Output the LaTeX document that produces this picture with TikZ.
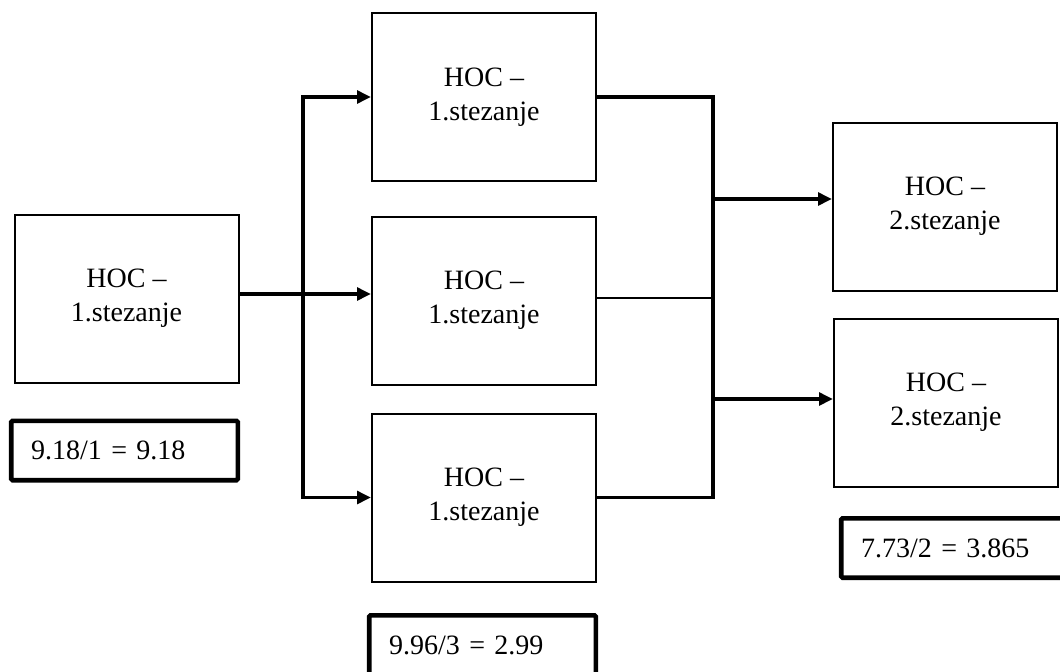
\documentclass[tikz,border=0pt]{standalone}
\usepackage{fontspec}
\setmainfont{Liberation Serif}
\usetikzlibrary{arrows.meta}

\tikzset{every picture/.style={line width=0.75pt}}
\tikzset{
  hocbox/.style={draw, line width=1.5pt, minimum width=168pt, minimum height=126pt, align=center, inner sep=0pt, font=\fontsize{21}{25.5}\selectfont},
  valbox/.style={draw, line width=3.5pt, rounded corners=1pt, minimum height=44.5pt, text width=140pt, inner xsep=15pt, align=left, font=\fontsize{21}{24}\selectfont},
  conn/.style={line width=2.8pt},
  thinconn/.style={line width=2pt},
  tip/.style={-{Triangle[length=10.5pt,width=9.5pt]}}
}

\begin{document}
\begin{tikzpicture}[x=0.75pt,y=0.75pt,yscale=-1,xscale=1]
\clip (0,0) rectangle (1060,671);
\fill[white] (0,0) rectangle (1060,671);

%Shape: Rectangle [first stage]
\node[hocbox] (hocA) at (126.5,298.5) {HOC –\\1.stezanje};
\node[hocbox] (hocB) at (484,97) {HOC –\\1.stezanje};
\node[hocbox] (hocC) at (484,300.5) {HOC –\\1.stezanje};
\node[hocbox] (hocD) at (484,497.5) {HOC –\\1.stezanje};
%Shape: Rectangle [second stage]
\node[hocbox] (hocE) at (945,206.5) {HOC –\\2.stezanje};
\node[hocbox] (hocF) at (946,402.5) {HOC –\\2.stezanje};

% Text Node [values]
\node[valbox] (valA) at (124.5,450.5) {9.18/1 = 9.18};
\node[valbox] (valB) at (482.5,645) {9.96/3 = 2.99};
\node[valbox] (valC) at (954.5,548) {7.73/2 = 3.865};

%Straight Lines [split]
\coordinate (split) at (303,294);
\draw[conn] (split -| hocA.east) -- (split);
\draw[conn,tip] (split) |- (hocB.west);
\draw[conn,tip] (split) -- (split -| hocC.west);
\draw[conn,tip] (split) |- (hocD.west);

%Straight Lines [join]
\coordinate (join) at (713,298);
\coordinate (outE) at (713,199);
\coordinate (outF) at (713,399);
\draw[conn] (hocB.east) -| (join) |- (hocD.east);
\draw[thinconn] (join -| hocC.east) -- (join);
\draw[conn,tip] (outE) -- (outE -| hocE.west);
\draw[conn,tip] (outF) -- (outF -| hocF.west);

\end{tikzpicture}
\end{document}
